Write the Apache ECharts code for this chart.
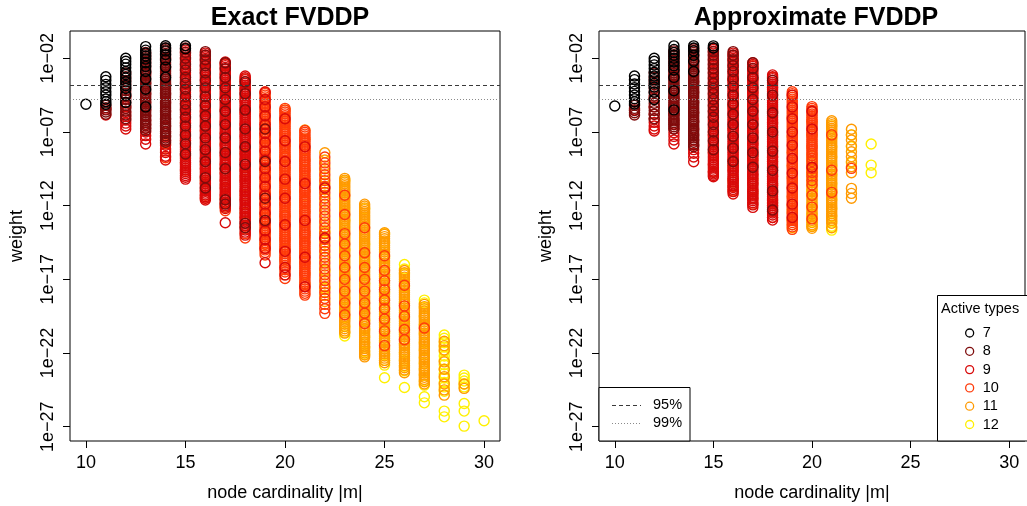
<!DOCTYPE html>
<html>
<head>
<meta charset="utf-8">
<script src="https://cdn.jsdelivr.net/npm/echarts@6/dist/echarts.min.js"></script>
<style>
  html, body { margin: 0; padding: 0; background: #fff; }
  #chart { width: 1027px; height: 506px; }
</style>
</head>
<body>
<div id="chart"></div>
<script>
// ticks
const cardTicks = [10, 15, 20, 25, 30];
const logTicks = [-27, -22, -17, -12, -7, -2];
// log10 of the 95% / 99% weight cut-offs
const cut95 = -3.81;
const cut99 = -4.76;

const types = ['7', '8', '9', '10', '11', '12'];
const typeColors = ['#000000', '#7E0C0C', '#D80A0A', '#FF3B0A', '#FF9A00', '#FFF000'];

// Exact FVDDP: [node cardinality, log10 weights]
const exact7 = [
  [10, [-5.12]],
  [11, [-3.25, -3.5, -3.77, -4.0, -4.27, -4.5, -4.76, -4.95, -5.12]],
  [12, [-2.0, -2.2, -2.4, -2.65, -2.9, -3.1, -3.35, -3.6, -3.85, -4.05, -4.5, -5.0]],
  [13, [-1.21, -1.45, -1.65, -1.85, -2.05, -2.3, -2.55, -2.9, -3.4, -4.1, -5.3]],
  [14, [-1.15, -1.3, -1.5, -1.75, -2.1, -2.6, -3.3]],
  [15, [-1.15, -1.35]]
];
const exact8 = [
  [11, [-5.2, -5.35, -5.5, -5.65, -5.8]],
  [12, [-3.0, -3.25, -3.5, -3.75, -4.0, -4.2, -4.4, -4.6, -4.8, -5.0, -5.2, -5.4, -5.6, -5.85, -6.1]],
  [13, [-1.6, -1.85, -2.1, -2.35, -2.6, -2.85, -3.1, -3.35, -3.6, -3.85, -4.1, -4.35, -4.6, -4.85, -5.1, -5.35, -5.6, -5.85, -6.1, -6.35, -6.6, -6.9]],
  [13, [-1.72, -1.97, -2.22, -2.47, -2.72, -2.97, -3.22, -3.47, -3.72, -3.97, -4.22, -4.47, -4.72, -4.97, -5.22, -5.47, -5.72, -5.97, -6.22, -6.47, -6.75]],
  [14, [-1.3, -1.55, -1.8, -2.05, -2.3, -2.55, -2.8, -3.05, -3.3, -3.55, -3.8, -4.05, -4.3, -4.55, -4.8, -5.05, -5.3, -5.55, -5.8, -6.05, -6.3, -6.55, -6.8, -7.1, -7.4, -7.7]],
  [14, [-1.42, -1.67, -1.92, -2.17, -2.42, -2.67, -2.92, -3.17, -3.42, -3.67, -3.92, -4.17, -4.42, -4.67, -4.92, -5.17, -5.42, -5.67, -5.92, -6.17, -6.42, -6.67, -6.95, -7.25, -7.55]],
  [15, [-1.3, -1.6, -2.0, -2.4, -2.8, -3.3, -3.7, -4.1, -4.6, -5.1, -5.5, -6.0, -6.6, -7.2, -7.8, -8.5]],
  [16, [-1.55, -1.8, -2.1, -2.5, -3.0, -3.5, -4.0, -4.6, -5.2, -5.9, -6.6, -7.4, -8.2, -9.0, -10.1, -10.8]],
  [17, [-2.3, -2.7, -3.3, -4.0, -4.8, -5.6, -6.5, -7.4, -8.4, -9.5, -11.6, -11.9]],
  [18, [-3.6, -4.4, -5.5, -6.8, -8.0, -9.2, -13.2, -13.5]],
  [19, [-6.8, -9.0, -11.5, -13.0]]
];
const exact9 = [
  [11, [-5.45, -5.85]],
  [12, [-4.6, -5.3, -5.7, -5.95, -6.2, -6.4, -6.6, -6.8]],
  [13, [-3.0, -3.7, -4.4, -5.0, -5.5, -5.9, -6.2, -6.5, -6.75, -7.0, -7.25, -7.5, -7.82]],
  [14, [-2.0, -2.6, -3.2, -3.8, -4.4, -5.0, -5.6, -6.1, -6.6, -7.0, -7.3, -7.6, -7.9, -8.15, -8.4, -8.65, -8.9]],
  [15, [-1.45, -1.7, -1.95, -2.2, -2.45, -2.7, -2.95, -3.2, -3.45, -3.7, -3.95, -4.2, -4.45, -4.7, -4.95, -5.2, -5.45, -5.7, -5.95, -6.2, -6.45, -6.7, -6.95, -7.2, -7.45, -7.7, -7.95, -8.2, -8.45, -8.7, -8.95, -9.2, -9.45, -9.7, -9.95, -10.2]],
  [15, [-1.57, -1.82, -2.07, -2.32, -2.57, -2.82, -3.07, -3.32, -3.57, -3.82, -4.07, -4.32, -4.57, -4.82, -5.07, -5.32, -5.57, -5.82, -6.07, -6.32, -6.57, -6.82, -7.07, -7.32, -7.57, -7.82, -8.07, -8.32, -8.57, -8.82, -9.07, -9.32, -9.57, -9.82, -10.07]],
  [16, [-1.65, -1.9, -2.15, -2.4, -2.65, -2.9, -3.15, -3.4, -3.65, -3.9, -4.15, -4.4, -4.65, -4.9, -5.15, -5.4, -5.65, -5.9, -6.15, -6.4, -6.65, -6.9, -7.15, -7.4, -7.65, -7.9, -8.15, -8.4, -8.65, -8.9, -9.15, -9.4, -9.65, -9.9, -10.15, -10.4, -10.65, -10.9, -11.15, -11.4, -11.62]],
  [16, [-1.77, -2.02, -2.27, -2.52, -2.77, -3.02, -3.27, -3.52, -3.77, -4.02, -4.27, -4.52, -4.77, -5.02, -5.27, -5.52, -5.77, -6.02, -6.27, -6.52, -6.77, -7.02, -7.27, -7.52, -7.77, -8.02, -8.27, -8.52, -8.77, -9.02, -9.27, -9.52, -9.77, -10.02, -10.27, -10.52, -10.77, -11.02, -11.27, -11.5]],
  [17, [-2.25, -2.5, -2.75, -3.0, -3.25, -3.5, -3.75, -4.0, -4.25, -4.5, -4.75, -5.0, -5.25, -5.5, -5.75, -6.0, -6.25, -6.5, -6.75, -7.0, -7.25, -7.5, -7.75, -8.0, -8.25, -8.5, -8.75, -9.0, -9.25, -9.5, -9.75, -10.0, -10.25, -10.5, -10.75, -11.0, -11.25, -11.5, -11.75, -12.0, -12.2, -13.16]],
  [17, [-2.37, -2.62, -2.87, -3.12, -3.37, -3.62, -3.87, -4.12, -4.37, -4.62, -4.87, -5.12, -5.37, -5.62, -5.87, -6.12, -6.37, -6.62, -6.87, -7.12, -7.37, -7.62, -7.87, -8.12, -8.37, -8.62, -8.87, -9.12, -9.37, -9.62, -9.87, -10.12, -10.37, -10.62, -10.87, -11.12, -11.37, -11.62, -11.87, -12.1]],
  [18, [-3.2, -3.45, -3.7, -3.95, -4.2, -4.45, -4.7, -4.95, -5.2, -5.45, -5.7, -5.95, -6.2, -6.45, -6.7, -6.95, -7.2, -7.45, -7.7, -7.95, -8.2, -8.45, -8.7, -8.95, -9.2, -9.45, -9.7, -9.95, -10.2, -10.45, -10.7, -10.95, -11.2, -11.45, -11.7, -11.95, -12.2, -12.45, -12.7, -12.95, -13.2, -13.5, -13.8, -14.0]],
  [18, [-3.32, -3.57, -3.82, -4.07, -4.32, -4.57, -4.82, -5.07, -5.32, -5.57, -5.82, -6.07, -6.32, -6.57, -6.82, -7.07, -7.32, -7.57, -7.82, -8.07, -8.32, -8.57, -8.82, -9.07, -9.32, -9.57, -9.82, -10.07, -10.32, -10.57, -10.82, -11.07, -11.32, -11.57, -11.82, -12.07, -12.32, -12.57, -12.82, -13.07, -13.35, -13.65]],
  [19, [-4.3, -4.8, -5.3, -5.9, -6.5, -7.1, -7.7, -8.3, -8.9, -9.5, -10.1, -10.7, -11.3, -11.9, -12.5, -13.1, -13.7, -14.3, -14.9, -15.87]],
  [20, [-6.1, -7.6, -9.0, -10.2, -11.5, -13.3, -15.1, -16.2, -16.7]],
  [21, [-8.0, -10.5, -13.0, -15.5, -17.5]],
  [22, [-10.8, -14.2]]
];
const exact10 = [
  [14, [-7.8, -8.3, -8.75]],
  [15, [-4.8, -6.4, -7.6, -8.6, -9.1, -9.6]],
  [16, [-2.8, -4.2, -5.6, -6.9, -8.0, -8.8, -9.5, -10.0, -10.5, -11.0, -11.3, -11.5]],
  [17, [-2.4, -3.1, -3.9, -4.7, -5.5, -6.3, -7.1, -7.9, -8.6, -9.2, -9.8, -10.3, -10.8, -11.3, -11.8, -12.35]],
  [18, [-3.4, -4.1, -4.9, -5.7, -6.5, -7.3, -8.1, -8.9, -9.6, -10.3, -11.0, -11.6, -12.2, -12.8, -13.4, -13.9, -14.2]],
  [19, [-4.27, -4.5, -4.75, -5.0, -5.25, -5.5, -5.75, -6.0, -6.25, -6.5, -6.75, -7.0, -7.25, -7.5, -7.75, -8.0, -8.25, -8.5, -8.75, -9.0, -9.25, -9.5, -9.75, -10.0, -10.25, -10.5, -10.75, -11.0, -11.25, -11.5, -11.75, -12.0, -12.25, -12.5, -12.75, -13.0, -13.25, -13.5, -13.75, -14.0, -14.25, -14.5, -14.75, -15.0, -15.35]],
  [19, [-4.38, -4.62, -4.87, -5.12, -5.37, -5.62, -5.87, -6.12, -6.37, -6.62, -6.87, -7.12, -7.37, -7.62, -7.87, -8.12, -8.37, -8.62, -8.87, -9.12, -9.37, -9.62, -9.87, -10.12, -10.37, -10.62, -10.87, -11.12, -11.37, -11.62, -11.87, -12.12, -12.37, -12.62, -12.87, -13.12, -13.37, -13.62, -13.87, -14.12, -14.37, -14.62, -14.87, -15.17]],
  [20, [-5.4, -5.65, -5.9, -6.15, -6.4, -6.65, -6.9, -7.15, -7.4, -7.65, -7.9, -8.15, -8.4, -8.65, -8.9, -9.15, -9.4, -9.65, -9.9, -10.15, -10.4, -10.65, -10.9, -11.15, -11.4, -11.65, -11.9, -12.15, -12.4, -12.65, -12.9, -13.15, -13.4, -13.65, -13.9, -14.15, -14.4, -14.65, -14.9, -15.15, -15.4, -15.65, -15.9, -16.2, -16.5, -16.94]],
  [20, [-5.52, -5.77, -6.02, -6.27, -6.52, -6.77, -7.02, -7.27, -7.52, -7.77, -8.02, -8.27, -8.52, -8.77, -9.02, -9.27, -9.52, -9.77, -10.02, -10.27, -10.52, -10.77, -11.02, -11.27, -11.52, -11.77, -12.02, -12.27, -12.52, -12.77, -13.02, -13.27, -13.52, -13.77, -14.02, -14.27, -14.52, -14.77, -15.02, -15.27, -15.52, -15.77, -16.05, -16.35, -16.7]],
  [21, [-6.9, -7.15, -7.4, -7.65, -7.9, -8.15, -8.4, -8.65, -8.9, -9.15, -9.4, -9.65, -9.9, -10.15, -10.4, -10.65, -10.9, -11.15, -11.4, -11.65, -11.9, -12.15, -12.4, -12.65, -12.9, -13.15, -13.4, -13.65, -13.9, -14.15, -14.4, -14.65, -14.9, -15.15, -15.4, -15.65, -15.9, -16.15, -16.4, -16.65, -16.9, -17.2, -17.5, -17.8, -18.07]],
  [21, [-7.02, -7.27, -7.52, -7.77, -8.02, -8.27, -8.52, -8.77, -9.02, -9.27, -9.52, -9.77, -10.02, -10.27, -10.52, -10.77, -11.02, -11.27, -11.52, -11.77, -12.02, -12.27, -12.52, -12.77, -13.02, -13.27, -13.52, -13.77, -14.02, -14.27, -14.52, -14.77, -15.02, -15.27, -15.52, -15.77, -16.02, -16.27, -16.52, -16.77, -17.05, -17.35, -17.65, -17.95]],
  [22, [-8.7, -9.1, -9.5, -9.9, -10.3, -10.7, -11.1, -11.5, -11.9, -12.3, -12.7, -13.1, -13.5, -13.9, -14.3, -14.7, -15.1, -15.5, -15.9, -16.3, -16.7, -17.1, -17.5, -17.9, -18.3, -18.7, -19.0, -19.31]],
  [23, [-11.3, -12.6, -13.9, -14.6, -15.4, -16.2, -17.0, -17.8, -18.6, -19.4]],
  [24, [-13.5, -15.2, -16.2, -17.0, -17.8, -18.6, -19.3, -20.0]],
  [25, [-15.4, -16.4, -17.1, -17.7, -18.4, -19.0, -19.7, -20.5, -21.5]],
  [26, [-17.4, -18.8, -19.5, -20.4, -21.1]],
  [27, [-20.3]]
];
const exact11 = [
  [16, [-9.2, -10.3]],
  [17, [-7.8, -9.5, -10.6, -11.5, -12.1]],
  [18, [-8.5, -10.0, -11.3, -12.5]],
  [19, [-7.3, -9.6, -11.2, -12.6, -13.8, -14.6]],
  [20, [-5.5, -6.3, -7.1, -7.9, -8.7, -9.5, -10.3, -11.1, -11.9, -12.7, -13.5, -14.3, -15.0, -15.6]],
  [21, [-6.87, -7.5, -8.2, -8.9, -9.6, -10.3, -11.0, -11.7, -12.4, -13.1, -13.8, -14.5, -15.2, -15.9, -16.6, -17.3]],
  [22, [-8.41, -8.9, -9.3, -9.7, -10.1, -10.5, -10.9, -11.3, -11.7, -12.1, -12.5, -12.9, -13.3, -13.7, -14.1, -14.5, -14.9, -15.3, -15.7, -16.1, -16.5, -16.9, -17.3, -17.7, -18.1, -18.5]],
  [23, [-10.15, -10.4, -10.65, -10.9, -11.15, -11.4, -11.65, -11.9, -12.15, -12.4, -12.65, -12.9, -13.15, -13.4, -13.65, -13.9, -14.15, -14.4, -14.65, -14.9, -15.15, -15.4, -15.65, -15.9, -16.15, -16.4, -16.65, -16.9, -17.15, -17.4, -17.65, -17.9, -18.15, -18.4, -18.65, -18.9, -19.15, -19.4, -19.65, -19.9, -20.2, -20.5]],
  [23, [-10.27, -10.52, -10.77, -11.02, -11.27, -11.52, -11.77, -12.02, -12.27, -12.52, -12.77, -13.02, -13.27, -13.52, -13.77, -14.02, -14.27, -14.52, -14.77, -15.02, -15.27, -15.52, -15.77, -16.02, -16.27, -16.52, -16.77, -17.02, -17.27, -17.52, -17.77, -18.02, -18.27, -18.52, -18.77, -19.02, -19.27, -19.52, -19.77, -20.05, -20.35, -20.65]],
  [24, [-11.9, -12.15, -12.4, -12.65, -12.9, -13.15, -13.4, -13.65, -13.9, -14.15, -14.4, -14.65, -14.9, -15.15, -15.4, -15.65, -15.9, -16.15, -16.4, -16.65, -16.9, -17.15, -17.4, -17.65, -17.9, -18.15, -18.4, -18.65, -18.9, -19.15, -19.4, -19.65, -19.9, -20.2, -20.5, -20.8, -21.1, -21.4, -21.7, -22.0, -22.26]],
  [24, [-12.02, -12.27, -12.52, -12.77, -13.02, -13.27, -13.52, -13.77, -14.02, -14.27, -14.52, -14.77, -15.02, -15.27, -15.52, -15.77, -16.02, -16.27, -16.52, -16.77, -17.02, -17.27, -17.52, -17.77, -18.02, -18.27, -18.52, -18.77, -19.02, -19.27, -19.52, -19.77, -20.05, -20.35, -20.65, -20.95, -21.25, -21.55, -21.85, -22.13]],
  [25, [-13.84, -14.1, -14.4, -14.7, -15.0, -15.3, -15.6, -15.9, -16.2, -16.5, -16.8, -17.1, -17.4, -17.7, -18.0, -18.3, -18.6, -18.9, -19.2, -19.5, -19.8, -20.1, -20.4, -20.7, -21.0, -21.3, -21.6, -21.9, -22.2, -22.5]],
  [25, [-13.95, -14.25, -14.55, -14.85, -15.15, -15.45, -15.75, -16.05, -16.35, -16.65, -16.95, -17.25, -17.55, -17.85, -18.15, -18.45, -18.75, -19.05, -19.35, -19.65, -19.95, -20.25, -20.55, -20.85, -21.15, -21.45, -21.75, -22.05, -22.35, -22.66]],
  [26, [-16.4, -16.7, -17.0, -17.3, -17.6, -17.9, -18.2, -18.5, -18.8, -19.1, -19.4, -19.7, -20.0, -20.3, -20.6, -20.9, -21.2, -21.5, -21.8, -22.1, -22.4, -22.7, -23.0, -23.34]],
  [26, [-16.55, -16.85, -17.15, -17.45, -17.75, -18.05, -18.35, -18.65, -18.95, -19.25, -19.55, -19.85, -20.15, -20.45, -20.75, -21.05, -21.35, -21.65, -21.95, -22.25, -22.55, -22.85, -23.15]],
  [27, [-18.7, -19.0, -19.3, -19.6, -19.9, -20.2, -20.5, -20.8, -21.1, -21.4, -21.7, -22.0, -22.3, -22.6, -22.9, -23.2, -23.5, -23.8, -24.1]],
  [27, [-18.85, -19.15, -19.45, -19.75, -20.05, -20.35, -20.65, -20.95, -21.25, -21.55, -21.85, -22.15, -22.45, -22.75, -23.05, -23.35, -23.65, -23.95]],
  [28, [-21.2, -21.5, -21.8, -22.6, -23.1, -23.6, -24.1, -24.5, -24.86]],
  [29, [-24.1, -24.4]]
];
const exact12 = [
  [21, [-12.0, -14.0]],
  [22, [-13.8, -16.4, -17.6]],
  [23, [-10.3, -13.0, -15.0, -16.8, -18.3, -19.6, -20.2, -20.6, -20.85]],
  [24, [-12.2, -14.6, -17.3, -19.0, -19.8, -20.4, -20.9, -21.3, -21.6, -21.9, -22.1]],
  [25, [-13.9, -14.5, -15.5, -16.7, -17.9, -18.9, -19.9, -20.6, -21.2, -21.7, -22.1, -22.5, -22.82, -23.68]],
  [26, [-15.99, -16.3, -16.6, -17.5, -18.6, -19.6, -20.5, -21.4, -22.0, -22.5, -22.9, -23.2, -24.34]],
  [27, [-18.41, -18.6, -18.9, -19.5, -20.1, -20.7, -21.3, -21.8, -22.3, -22.7, -23.1, -23.5, -23.9, -24.18, -24.97, -25.38]],
  [28, [-20.78, -21.0, -21.3, -21.6, -21.9, -22.2, -22.5, -22.8, -23.1, -23.4, -23.7, -24.0, -24.3, -24.6, -25.94, -26.33]],
  [29, [-23.5, -23.7, -23.9, -24.1, -24.3, -25.43, -25.94, -26.96]],
  [30, [-26.6]]
];

// Approximate FVDDP
const approx7 = [
  [10, [-5.24]],
  [11, [-3.2, -3.45, -3.75, -4.0, -4.25, -4.5, -4.75, -4.95, -5.1]],
  [12, [-2.0, -2.2, -2.45, -2.7, -2.95, -3.2, -3.45, -3.7, -3.95, -4.3, -4.8]],
  [13, [-1.16, -1.4, -1.6, -1.8, -2.0, -2.25, -2.5, -2.8, -3.3, -4.2, -5.5]],
  [14, [-1.16, -1.3, -1.5, -1.8, -2.2, -2.9]],
  [15, [-1.16, -1.3]]
];
const approx8 = [
  [11, [-5.2, -5.4, -5.55, -5.7, -5.85]],
  [12, [-3.0, -3.3, -3.55, -3.8, -4.05, -4.3, -4.55, -4.8, -5.05, -5.3, -5.55, -5.8, -6.1]],
  [13, [-1.5, -1.75, -2.0, -2.25, -2.5, -2.75, -3.0, -3.25, -3.5, -3.75, -4.0, -4.25, -4.5, -4.75, -5.0, -5.25, -5.5, -5.75, -6.0, -6.25, -6.5, -6.8]],
  [13, [-1.62, -1.87, -2.12, -2.37, -2.62, -2.87, -3.12, -3.37, -3.62, -3.87, -4.12, -4.37, -4.62, -4.87, -5.12, -5.37, -5.62, -5.87, -6.12, -6.37, -6.65]],
  [14, [-1.35, -1.6, -1.85, -2.1, -2.35, -2.6, -2.85, -3.1, -3.35, -3.6, -3.85, -4.1, -4.35, -4.6, -4.85, -5.1, -5.35, -5.6, -5.85, -6.1, -6.35, -6.6, -6.85, -7.1, -7.4, -7.7, -8.0]],
  [14, [-1.47, -1.72, -1.97, -2.22, -2.47, -2.72, -2.97, -3.22, -3.47, -3.72, -3.97, -4.22, -4.47, -4.72, -4.97, -5.22, -5.47, -5.72, -5.97, -6.22, -6.47, -6.72, -6.97, -7.25, -7.55, -7.85]],
  [15, [-1.3, -1.55, -1.8, -2.1, -2.4, -2.7, -3.0, -3.35, -3.7, -4.05, -4.4, -4.8, -5.2, -5.6, -6.0, -6.5, -7.0, -7.6, -8.2]],
  [16, [-1.55, -1.8, -2.1, -2.5, -2.9, -3.4, -3.9, -4.5, -5.1, -5.8, -6.5, -7.3, -8.1, -9.0]],
  [17, [-2.3, -2.7, -3.3, -4.0, -4.8, -5.6, -6.5, -7.4, -8.4, -9.4]],
  [18, [-3.5, -4.5, -5.7, -7.0, -8.3, -9.6, -11.0, -12.3]]
];
const approx9 = [
  [11, [-5.5]],
  [12, [-4.7, -5.3, -5.8, -6.1, -6.35, -6.6, -6.8, -6.94]],
  [13, [-3.2, -4.0, -4.7, -5.3, -5.8, -6.2, -6.5, -6.8, -7.05, -7.3, -7.55, -7.82]],
  [14, [-2.2, -2.9, -3.6, -4.3, -5.0, -5.7, -6.3, -6.8, -7.2, -7.55, -7.9, -8.2, -8.45, -8.7, -9.02]],
  [15, [-1.4, -1.65, -1.9, -2.15, -2.4, -2.65, -2.9, -3.15, -3.4, -3.65, -3.9, -4.15, -4.4, -4.65, -4.9, -5.15, -5.4, -5.65, -5.9, -6.15, -6.4, -6.65, -6.9, -7.15, -7.4, -7.65, -7.9, -8.15, -8.4, -8.65, -8.9, -9.15, -9.4, -9.65, -9.85, -10.04]],
  [15, [-1.52, -1.77, -2.02, -2.27, -2.52, -2.77, -3.02, -3.27, -3.52, -3.77, -4.02, -4.27, -4.52, -4.77, -5.02, -5.27, -5.52, -5.77, -6.02, -6.27, -6.52, -6.77, -7.02, -7.27, -7.52, -7.77, -8.02, -8.27, -8.52, -8.77, -9.02, -9.27, -9.52, -9.75, -9.95]],
  [16, [-1.65, -1.9, -2.15, -2.4, -2.65, -2.9, -3.15, -3.4, -3.65, -3.9, -4.15, -4.4, -4.65, -4.9, -5.15, -5.4, -5.65, -5.9, -6.15, -6.4, -6.65, -6.9, -7.15, -7.4, -7.65, -7.9, -8.15, -8.4, -8.65, -8.9, -9.15, -9.4, -9.65, -9.9, -10.15, -10.4, -10.65, -10.9, -11.21]],
  [16, [-1.77, -2.02, -2.27, -2.52, -2.77, -3.02, -3.27, -3.52, -3.77, -4.02, -4.27, -4.52, -4.77, -5.02, -5.27, -5.52, -5.77, -6.02, -6.27, -6.52, -6.77, -7.02, -7.27, -7.52, -7.77, -8.02, -8.27, -8.52, -8.77, -9.02, -9.27, -9.52, -9.77, -10.02, -10.27, -10.52, -10.77, -11.05]],
  [17, [-2.3, -2.55, -2.8, -3.05, -3.3, -3.55, -3.8, -4.05, -4.3, -4.55, -4.8, -5.05, -5.3, -5.55, -5.8, -6.05, -6.3, -6.55, -6.8, -7.05, -7.3, -7.55, -7.8, -8.05, -8.3, -8.55, -8.8, -9.05, -9.3, -9.55, -9.8, -10.05, -10.3, -10.55, -10.8, -11.05, -11.3, -11.55, -11.8, -12.12]],
  [17, [-2.42, -2.67, -2.92, -3.17, -3.42, -3.67, -3.92, -4.17, -4.42, -4.67, -4.92, -5.17, -5.42, -5.67, -5.92, -6.17, -6.42, -6.67, -6.92, -7.17, -7.42, -7.67, -7.92, -8.17, -8.42, -8.67, -8.92, -9.17, -9.42, -9.67, -9.92, -10.17, -10.42, -10.67, -10.92, -11.17, -11.42, -11.67, -11.95]],
  [18, [-3.13, -3.38, -3.63, -3.88, -4.13, -4.38, -4.63, -4.88, -5.13, -5.38, -5.63, -5.88, -6.13, -6.38, -6.63, -6.88, -7.13, -7.38, -7.63, -7.88, -8.13, -8.38, -8.63, -8.88, -9.13, -9.38, -9.63, -9.88, -10.13, -10.38, -10.63, -10.88, -11.13, -11.38, -11.63, -11.88, -12.13, -12.38, -12.63, -12.98]],
  [18, [-3.25, -3.5, -3.75, -4.0, -4.25, -4.5, -4.75, -5.0, -5.25, -5.5, -5.75, -6.0, -6.25, -6.5, -6.75, -7.0, -7.25, -7.5, -7.75, -8.0, -8.25, -8.5, -8.75, -9.0, -9.25, -9.5, -9.75, -10.0, -10.25, -10.5, -10.75, -11.0, -11.25, -11.5, -11.75, -12.0, -12.25, -12.5, -12.8]],
  [19, [-4.5, -5.3, -6.1, -7.0, -7.9, -8.8, -9.8, -10.8, -11.9, -12.8]],
  [20, [-5.6, -6.8, -9.4]]
];
const approx10 = [
  [15, [-7.2, -8.4, -9.2, -9.7]],
  [16, [-3.5, -5.2, -6.8, -8.0, -8.9, -9.6, -10.2, -10.7, -11.0]],
  [17, [-2.5, -3.4, -4.3, -5.2, -6.1, -7.0, -7.8, -8.6, -9.3, -9.9, -10.5, -11.0, -11.5, -11.9]],
  [18, [-3.3, -4.0, -4.8, -5.6, -6.4, -7.2, -8.0, -8.7, -9.4, -10.0, -10.6, -11.1, -11.6, -12.0, -12.4, -12.8]],
  [19, [-4.27, -4.52, -4.77, -5.02, -5.27, -5.52, -5.77, -6.02, -6.27, -6.52, -6.77, -7.02, -7.27, -7.52, -7.77, -8.02, -8.27, -8.52, -8.77, -9.02, -9.27, -9.52, -9.77, -10.02, -10.27, -10.52, -10.77, -11.02, -11.27, -11.52, -11.77, -12.02, -12.27, -12.52, -12.77, -13.02, -13.3, -13.61]],
  [19, [-4.4, -4.65, -4.9, -5.15, -5.4, -5.65, -5.9, -6.15, -6.4, -6.65, -6.9, -7.15, -7.4, -7.65, -7.9, -8.15, -8.4, -8.65, -8.9, -9.15, -9.4, -9.65, -9.9, -10.15, -10.4, -10.65, -10.9, -11.15, -11.4, -11.65, -11.9, -12.15, -12.4, -12.65, -12.9, -13.15, -13.45]],
  [20, [-5.28, -5.53, -5.78, -6.03, -6.28, -6.53, -6.78, -7.03, -7.28, -7.53, -7.78, -8.03, -8.28, -8.6, -9.0, -9.5, -10.0, -10.6, -11.3, -12.1, -12.9]],
  [20, [-5.4, -5.65, -5.9, -6.15, -6.4, -6.65, -6.9, -7.15, -7.4, -7.65, -7.9, -8.15, -8.42, -8.8, -9.25, -9.75, -10.3]],
  [21, [-7.2, -9.6, -11.1]],
  [22, [-9.47]]
];
const approx11 = [
  [16, [-9.3, -10.4]],
  [17, [-8.9, -10.2, -11.2]],
  [18, [-9.0, -10.5, -11.8]],
  [19, [-6.0, -7.3, -8.4, -9.3, -10.1, -10.8, -11.4, -12.0, -12.5, -12.9, -13.3]],
  [20, [-6.3, -7.2, -8.0, -8.5, -8.8, -9.1, -9.4, -9.7, -10.0, -10.3, -10.6, -10.9, -11.2, -11.5, -11.8, -12.1, -12.4, -12.7, -13.0, -13.3, -13.54]],
  [20, [-8.65, -8.95, -9.25, -9.55, -9.85, -10.15, -10.45, -10.75, -11.05, -11.35, -11.65, -11.95, -12.25, -12.55, -12.85, -13.15, -13.42]],
  [21, [-6.24, -6.5, -6.75, -7.0, -7.3, -7.6, -7.9, -8.2, -8.5, -8.8, -9.1, -9.4, -9.7, -10.0, -10.3, -10.6, -10.9, -11.2, -11.5, -11.8, -12.1, -12.4, -12.7, -13.0]],
  [21, [-6.37, -6.62, -6.87, -7.15, -7.45, -7.75, -8.05, -8.35, -8.65, -8.95, -9.25, -9.55, -9.85, -10.15, -10.45, -10.75, -11.05, -11.35, -11.65, -11.95, -12.25, -12.55, -12.85, -13.2, -13.5]],
  [22, [-6.82, -7.2, -7.55, -7.95, -8.34, -8.68, -9.02, -9.36, -9.77, -10.83, -11.17, -11.5]]
];
const approx12 = [
  [19, [-12.3, -13.0, -13.5]],
  [20, [-9.8, -11.0, -12.0, -12.6, -13.1, -13.4]],
  [21, [-6.6, -7.4, -8.0, -8.7, -9.3, -9.9, -10.5, -11.0, -11.6, -12.2, -12.7, -13.1, -13.4, -13.66]],
  [22, [-7.2, -8.0, -9.1]],
  [23, [-7.82, -9.25, -9.77]]
];

const exactSets = [exact7, exact8, exact9, exact10, exact11, exact12];
const approxSets = [approx7, approx8, approx9, approx10, approx11, approx12];

const FONT = '"Liberation Sans", Arial, Helvetica, sans-serif';

function toPoints(groups) {
  const out = [];
  groups.forEach(([m, ws]) => ws.forEach(w => out.push([m, w])));
  return out;
}

function fmtLog(v) {
  const n = Math.round(-v);
  return '1e\u2212' + (n < 10 ? '0' + n : String(n));
}

const grids = [
  { left: 70, top: 31, width: 430, height: 410 },
  { left: 599, top: 31, width: 426, height: 410 }
];

const xAxes = grids.map((g, i) => ({
  gridIndex: i,
  type: 'value',
  min: 9.2,
  max: 30.8,
  name: 'node cardinality |m|',
  nameLocation: 'middle',
  nameGap: 43,
  nameTextStyle: { fontFamily: FONT, fontSize: 18, color: '#000' },
  axisLine: { show: false },
  splitLine: { show: false },
  axisTick: { show: true, inside: false, length: 7, customValues: cardTicks, lineStyle: { color: '#000' } },
  axisLabel: { customValues: cardTicks, margin: 13, fontFamily: FONT, fontSize: 18, color: '#000' }
}));

const yAxes = grids.map((g, i) => ({
  gridIndex: i,
  type: 'value',
  min: -27.97,
  max: -0.15,
  name: 'weight',
  nameLocation: 'middle',
  nameGap: 44,
  nameTextStyle: { fontFamily: FONT, fontSize: 18, color: '#000' },
  axisLine: { show: false },
  splitLine: { show: false },
  axisTick: { show: true, inside: false, length: 7, customValues: logTicks, lineStyle: { color: '#000' } },
  axisLabel: { customValues: logTicks, rotate: 90, margin: 13, fontFamily: FONT, fontSize: 18, color: '#000', formatter: fmtLog }
}));

const series = [];
[exactSets, approxSets].forEach((sets, gi) => {
  // lighter types first so darker rings end up on top
  for (let t = types.length - 1; t >= 0; t--) {
    series.push({
      name: types[t],
      type: 'scatter',
      xAxisIndex: gi,
      yAxisIndex: gi,
      symbol: 'circle',
      symbolSize: 10,
      silent: true,
      itemStyle: { color: 'rgba(0,0,0,0)', borderColor: typeColors[t], borderWidth: 1.4, opacity: 1 },
      data: toPoints(sets[t])
    });
  }
  series.push({
    name: 'cutoffs',
    type: 'scatter',
    xAxisIndex: gi,
    yAxisIndex: gi,
    z: 5,
    data: [],
    markLine: {
      silent: true,
      symbol: ['none', 'none'],
      label: { show: false },
      data: [
        { yAxis: cut95, lineStyle: { color: '#3a3a3a', type: [4, 3], width: 1 } },
        { yAxis: cut99, lineStyle: { color: '#8a8a8a', type: [1, 2], width: 1 } }
      ]
    }
  });
});

const chart = echarts.init(document.getElementById('chart'), null, { renderer: 'canvas' });
chart.setOption({
  animation: false,
  backgroundColor: '#fff',
  title: [
    { text: 'Exact FVDDP', left: 285, top: 1, textAlign: 'center',
      textStyle: { fontFamily: FONT, fontSize: 25, fontWeight: 'bold', color: '#000' } },
    { text: 'Approximate FVDDP', left: 811, top: 1, textAlign: 'center',
      textStyle: { fontFamily: FONT, fontSize: 25, fontWeight: 'bold', color: '#000' } }
  ],
  grid: grids.map(g => Object.assign({
    show: true, borderColor: '#000', borderWidth: 1, backgroundColor: 'transparent',
    containLabel: false, outerBoundsMode: 'none'
  }, g)),
  xAxis: xAxes,
  yAxis: yAxes,
  legend: {
    orient: 'vertical',
    left: 960,
    top: 319,
    itemWidth: 8,
    itemHeight: 8,
    itemGap: 0.3,
    selectedMode: false,
    textStyle: { fontFamily: FONT, fontSize: 14.5, lineHeight: 18, color: '#000', padding: [0, 0, 0, 4] },
    data: types.map((t, i) => ({
      name: t,
      icon: 'circle',
      itemStyle: { color: 'rgba(0,0,0,0)', borderColor: typeColors[i], borderWidth: 1.3 }
    }))
  },
  graphic: [
    // Active types legend box
    { type: 'rect', z: 1, shape: { x: 937.5, y: 295.5, width: 100, height: 145.5 },
      style: { fill: '#fff', stroke: '#000', lineWidth: 1 } },
    { type: 'text', z: 2, left: 941, top: 301,
      style: { text: 'Active types', fontFamily: FONT, fontSize: 14.5, fill: '#000' } },
    // line-type legend box
    { type: 'rect', z: 1, shape: { x: 599, y: 387.5, width: 91, height: 53.5 },
      style: { fill: '#fff', stroke: '#000', lineWidth: 1 } },
    { type: 'line', z: 2, shape: { x1: 612, y1: 405.5, x2: 641, y2: 405.5 },
      style: { stroke: '#3a3a3a', lineWidth: 1, lineDash: [4, 3] } },
    { type: 'line', z: 2, shape: { x1: 612, y1: 423.5, x2: 641, y2: 423.5 },
      style: { stroke: '#8a8a8a', lineWidth: 1, lineDash: [1, 2] } },
    { type: 'text', z: 2, left: 653, top: 397,
      style: { text: '95%', fontFamily: FONT, fontSize: 14.5, fill: '#000' } },
    { type: 'text', z: 2, left: 653, top: 415,
      style: { text: '99%', fontFamily: FONT, fontSize: 14.5, fill: '#000' } }
  ],
  series: series
});
</script>
</body>
</html>
